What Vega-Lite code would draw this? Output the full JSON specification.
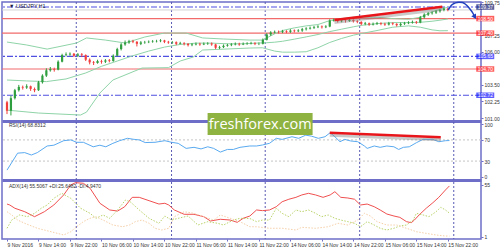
{
"$schema": "https://vega.github.io/schema/vega-lite/v6.json",
"autosize": {"type": "none"},
"padding": {"left": 2, "top": 2, "right": 19, "bottom": 11},
"width": 479,
"height": 237,
"background": "white",
"config": {
  "aria": false,
  "view": {"stroke": "#6e6ec8", "strokeWidth": 1.5},
  "axis": {"grid": false, "domain": false, "labelFont": "Liberation Sans", "labelFontSize": 5, "labelColor": "#333333", "tickColor": "#6e6ec8", "tickSize": 2, "labelPadding": 1},
  "text": {"font": "Liberation Sans"}
},
"resolve": {"scale": {"y": "independent"}, "axis": {"x": "independent", "y": "independent"}},
"datasets": {
  "days": [{"d":17.6},{"d":41.8},{"d":65.6},{"d":89.6},{"d":113.5}],
  "redlev": [{"p":108.5},{"p":107.4},{"p":104.7}],
  "bluelev": [{"p":109.37},{"p":105.65},{"p":102.72}],
  "bid": [{"p":109.15}],
  "tags": [{"p":109.37,"t":"109.37","k":"bid"},{"p":108.5,"t":"108.50","k":"res"},{"p":107.4,"t":"107.40","k":"res"},{"p":105.65,"t":"105.65","k":"piv"},{"p":104.7,"t":"104.70","k":"res"},{"p":102.72,"t":"102.72","k":"piv"}],
  "trend1": [{"i":83.2,"p":108.39},{"i":110.6,"p":109.4}],
  "trend2": [{"i":82.0,"v":83.6},{"i":110.2,"v":75}],
  "proj": [{"i":112.1,"p":109.15},{"i":112.9,"p":109.5},{"i":113.9,"p":109.68},{"i":114.8,"p":109.74},{"i":115.7,"p":109.71},{"i":116.4,"p":109.6},{"i":117.4,"p":109.3},{"i":118.2,"p":108.98},{"i":118.7,"p":108.72}],
  "projhead": [{"i":118.85,"p":108.62}],
  "maintitle": [{"t":"▼ USDJPY,H1"}],
  "rsititle": [{"t":"RSI(14) 68.8312"}],
  "adxtitle": [{"t":"ADX(14) 55.5067 +DI:25.6482 -DI:4.9470"}],
  "wm": [{"t":"freshforex.com"}],
  "rsilev": [{"v":70},{"v":30}],
  "bbu": [{"i":0,"v":106.73},{"i":5,"v":106.51},{"i":10.2,"v":106.2},{"i":17.7,"v":106.66},{"i":20.2,"v":107.04},{"i":25,"v":106.88},{"i":30,"v":106.66},{"i":35,"v":107.11},{"i":40,"v":107.41},{"i":45.5,"v":107.41},{"i":49.7,"v":107.04},{"i":55,"v":106.96},{"i":61.7,"v":106.88},{"i":64.9,"v":106.88},{"i":68,"v":107.35},{"i":70,"v":107.6},{"i":73,"v":107.8},{"i":76,"v":107.95},{"i":79,"v":108.05},{"i":82,"v":108.35},{"i":85,"v":108.5},{"i":88,"v":108.6},{"i":90,"v":108.61},{"i":94,"v":108.6},{"i":98,"v":108.5},{"i":102,"v":108.45},{"i":105,"v":108.6},{"i":108,"v":109.0},{"i":110,"v":109.2},{"i":112,"v":109.35}],
  "bbm": [{"i":0,"v":103.87},{"i":5,"v":103.8},{"i":10,"v":103.75},{"i":15,"v":103.95},{"i":20,"v":104.4},{"i":24,"v":104.9},{"i":28,"v":105.3},{"i":32,"v":105.7},{"i":36,"v":106.05},{"i":40,"v":106.35},{"i":44,"v":106.55},{"i":48,"v":106.65},{"i":52,"v":106.65},{"i":56,"v":106.6},{"i":60,"v":106.6},{"i":64,"v":106.66},{"i":66,"v":106.68},{"i":68,"v":106.72},{"i":70,"v":106.79},{"i":73,"v":106.95},{"i":76,"v":107.12},{"i":79,"v":107.3},{"i":82,"v":107.52},{"i":85,"v":107.7},{"i":88,"v":107.88},{"i":90,"v":107.99},{"i":94,"v":108.12},{"i":98,"v":108.2},{"i":102,"v":108.2},{"i":105,"v":108.22},{"i":108,"v":108.3},{"i":110,"v":108.38},{"i":112,"v":108.47}],
  "bbl": [{"i":0,"v":101.6},{"i":8,"v":101.38},{"i":18.7,"v":101.23},{"i":20.2,"v":101.45},{"i":23.6,"v":102.89},{"i":26.9,"v":103.87},{"i":34.3,"v":104.77},{"i":41,"v":104.8},{"i":44,"v":105.3},{"i":47.3,"v":105.6},{"i":49.7,"v":106.13},{"i":61.7,"v":106.28},{"i":64.9,"v":106.3},{"i":68,"v":106.05},{"i":70,"v":105.97},{"i":73,"v":105.97},{"i":76,"v":106.0},{"i":79,"v":106.3},{"i":82,"v":106.7},{"i":85,"v":107.0},{"i":88,"v":107.25},{"i":90,"v":107.37},{"i":94,"v":107.6},{"i":98,"v":107.85},{"i":102,"v":107.95},{"i":105,"v":107.85},{"i":108,"v":107.65},{"i":110,"v":107.58},{"i":112,"v":107.59}],
  "candles": [
{"i":0,"o":102.2,"c":101.55,"h":102.3,"l":101.3},{"i":1,"o":101.55,"c":102.5,"h":102.7,"l":101.2},{"i":2,"o":102.5,"c":103.1,"h":103.2,"l":102.4},{"i":3,"o":103.1,"c":103.35,"h":103.5,"l":103.0},{"i":4,"o":103.35,"c":103.3,"h":103.45,"l":103.15},{"i":5,"o":103.3,"c":103.4,"h":103.55,"l":103.2},{"i":6,"o":103.4,"c":103.2,"h":103.45,"l":103.05},{"i":7,"o":103.2,"c":103.1,"h":103.3,"l":102.95},{"i":8,"o":103.1,"c":103.7,"h":103.8,"l":103.05},{"i":9,"o":103.7,"c":104.2,"h":104.3,"l":103.6},
{"i":10,"o":104.2,"c":104.6,"h":104.75,"l":104.1},{"i":11,"o":104.6,"c":104.7,"h":104.85,"l":104.5},{"i":12,"o":104.7,"c":104.65,"h":104.8,"l":104.5},{"i":13,"o":104.65,"c":105.25,"h":105.35,"l":104.6},{"i":14,"o":105.25,"c":105.75,"h":105.85,"l":105.2},{"i":15,"o":105.75,"c":105.8,"h":105.95,"l":105.65},{"i":16,"o":105.8,"c":105.85,"h":105.95,"l":105.7},{"i":17,"o":105.85,"c":105.7,"h":105.9,"l":105.6},{"i":18,"o":105.7,"c":105.8,"h":105.9,"l":105.6},{"i":19,"o":105.8,"c":105.75,"h":105.9,"l":105.6},
{"i":20,"o":105.75,"c":105.4,"h":105.8,"l":105.3},{"i":21,"o":105.4,"c":105.2,"h":105.5,"l":105.05},{"i":22,"o":105.2,"c":105.15,"h":105.3,"l":105.0},{"i":23,"o":105.15,"c":105.3,"h":105.4,"l":105.1},{"i":24,"o":105.3,"c":105.25,"h":105.4,"l":105.1},{"i":25,"o":105.25,"c":105.35,"h":105.45,"l":105.15},{"i":26,"o":105.35,"c":105.3,"h":105.45,"l":105.2},{"i":27,"o":105.3,"c":105.7,"h":105.8,"l":105.25},{"i":28,"o":105.7,"c":106.2,"h":106.3,"l":105.65},{"i":29,"o":106.2,"c":106.55,"h":106.65,"l":106.1},
{"i":30,"o":106.55,"c":106.7,"h":106.85,"l":106.45},{"i":31,"o":106.7,"c":106.8,"h":106.9,"l":106.6},{"i":32,"o":106.8,"c":106.75,"h":106.9,"l":106.65},{"i":33,"o":106.75,"c":106.6,"h":106.8,"l":106.4},{"i":34,"o":106.6,"c":106.7,"h":106.8,"l":106.5},{"i":35,"o":106.7,"c":106.72,"h":106.82,"l":106.6},{"i":36,"o":106.72,"c":106.75,"h":106.85,"l":106.65},{"i":37,"o":106.75,"c":106.78,"h":106.88,"l":106.68},{"i":38,"o":106.78,"c":106.8,"h":106.9,"l":106.7},{"i":39,"o":106.8,"c":106.85,"h":106.95,"l":106.72},
{"i":40,"o":106.85,"c":106.75,"h":106.9,"l":106.65},{"i":41,"o":106.75,"c":106.7,"h":106.82,"l":106.6},{"i":42,"o":106.7,"c":106.72,"h":106.8,"l":106.6},{"i":43,"o":106.72,"c":106.6,"h":106.78,"l":106.5},{"i":44,"o":106.6,"c":106.65,"h":106.75,"l":106.55},{"i":45,"o":106.65,"c":106.6,"h":106.72,"l":106.48},{"i":46,"o":106.6,"c":106.5,"h":106.65,"l":106.4},{"i":47,"o":106.5,"c":106.55,"h":106.65,"l":106.42},{"i":48,"o":106.55,"c":106.6,"h":106.7,"l":106.48},{"i":49,"o":106.6,"c":106.55,"h":106.68,"l":106.45},
{"i":50,"o":106.55,"c":106.6,"h":106.7,"l":106.5},{"i":51,"o":106.6,"c":106.62,"h":106.72,"l":106.52},{"i":52,"o":106.62,"c":106.55,"h":106.7,"l":106.45},{"i":53,"o":106.55,"c":106.3,"h":106.6,"l":106.2},{"i":54,"o":106.3,"c":106.35,"h":106.45,"l":106.2},{"i":55,"o":106.35,"c":106.45,"h":106.55,"l":106.28},{"i":56,"o":106.45,"c":106.5,"h":106.6,"l":106.38},{"i":57,"o":106.5,"c":106.55,"h":106.65,"l":106.42},{"i":58,"o":106.55,"c":106.6,"h":106.7,"l":106.48},{"i":59,"o":106.6,"c":106.55,"h":106.68,"l":106.45},
{"i":60,"o":106.55,"c":106.6,"h":106.7,"l":106.5},{"i":61,"o":106.6,"c":106.62,"h":106.72,"l":106.52},{"i":62,"o":106.62,"c":106.65,"h":106.75,"l":106.55},{"i":63,"o":106.65,"c":106.6,"h":106.72,"l":106.5},{"i":64,"o":106.6,"c":106.6,"h":106.7,"l":106.5},{"i":65,"o":106.6,"c":106.9,"h":107.0,"l":106.55},{"i":66,"o":106.9,"c":107.3,"h":107.4,"l":106.85},{"i":67,"o":107.3,"c":107.45,"h":107.55,"l":107.2},{"i":68,"o":107.45,"c":107.5,"h":107.6,"l":107.38},{"i":69,"o":107.5,"c":107.48,"h":107.6,"l":107.38},
{"i":70,"o":107.48,"c":107.55,"h":107.65,"l":107.4},{"i":71,"o":107.55,"c":107.5,"h":107.62,"l":107.4},{"i":72,"o":107.5,"c":107.6,"h":107.7,"l":107.42},{"i":73,"o":107.6,"c":107.55,"h":107.68,"l":107.45},{"i":74,"o":107.55,"c":107.6,"h":107.7,"l":107.48},{"i":75,"o":107.6,"c":107.7,"h":107.8,"l":107.5},{"i":76,"o":107.7,"c":107.75,"h":107.85,"l":107.6},{"i":77,"o":107.75,"c":107.8,"h":107.9,"l":107.68},{"i":78,"o":107.8,"c":107.85,"h":107.95,"l":107.72},{"i":79,"o":107.85,"c":107.9,"h":108.0,"l":107.78},
{"i":80,"o":107.9,"c":107.85,"h":107.98,"l":107.75},{"i":81,"o":107.85,"c":107.9,"h":108.0,"l":107.78},{"i":82,"o":107.9,"c":108.35,"h":108.45,"l":107.85},{"i":83,"o":108.35,"c":108.4,"h":108.5,"l":108.28},{"i":84,"o":108.4,"c":108.3,"h":108.45,"l":108.2},{"i":85,"o":108.3,"c":108.35,"h":108.45,"l":108.22},{"i":86,"o":108.35,"c":108.32,"h":108.45,"l":108.2},{"i":87,"o":108.32,"c":108.4,"h":108.5,"l":108.25},{"i":88,"o":108.4,"c":108.3,"h":108.45,"l":108.2},{"i":89,"o":108.3,"c":108.25,"h":108.38,"l":108.15},
{"i":90,"o":108.25,"c":108.1,"h":108.3,"l":108.0},{"i":91,"o":108.1,"c":108.15,"h":108.25,"l":108.0},{"i":92,"o":108.15,"c":108.05,"h":108.2,"l":107.95},{"i":93,"o":108.05,"c":108.1,"h":108.2,"l":107.98},{"i":94,"o":108.1,"c":108.15,"h":108.25,"l":108.02},{"i":95,"o":108.15,"c":108.1,"h":108.22,"l":108.0},{"i":96,"o":108.1,"c":108.05,"h":108.18,"l":107.95},{"i":97,"o":108.05,"c":108.15,"h":108.25,"l":107.98},{"i":98,"o":108.15,"c":108.1,"h":108.22,"l":108.0},{"i":99,"o":108.1,"c":108.0,"h":108.15,"l":107.9},
{"i":100,"o":108.0,"c":108.1,"h":108.2,"l":107.92},{"i":101,"o":108.1,"c":108.15,"h":108.25,"l":108.02},{"i":102,"o":108.15,"c":108.2,"h":108.3,"l":108.08},{"i":103,"o":108.2,"c":108.25,"h":108.35,"l":108.12},{"i":104,"o":108.25,"c":108.2,"h":108.32,"l":108.1},{"i":105,"o":108.2,"c":108.6,"h":108.7,"l":108.15},{"i":106,"o":108.6,"c":108.8,"h":108.9,"l":108.5},{"i":107,"o":108.8,"c":108.9,"h":109.0,"l":108.7},{"i":108,"o":108.9,"c":108.95,"h":109.05,"l":108.8},{"i":109,"o":108.95,"c":109.05,"h":109.15,"l":108.85},
{"i":110,"o":109.05,"c":109.15,"h":109.25,"l":108.95},{"i":111,"o":109.15,"c":109.25,"h":109.35,"l":109.05},{"i":112,"o":109.25,"c":109.15,"h":109.3,"l":109.05}
  ],
  "rsi": [{"i":0,"v":13},{"i":2.7,"v":45},{"i":4.5,"v":46},{"i":6.2,"v":41.5},{"i":7.7,"v":46},{"i":10.2,"v":58.5},{"i":11.9,"v":60},{"i":14.4,"v":68.5},{"i":16.2,"v":70},{"i":17.7,"v":65.5},{"i":19.4,"v":65.5},{"i":21.9,"v":57},{"i":23.6,"v":60},{"i":25.1,"v":57},{"i":26.9,"v":63.5},{"i":28.6,"v":68.5},{"i":30.6,"v":73},{"i":32.3,"v":71},{"i":33.6,"v":70},{"i":35.1,"v":65},{"i":37.6,"v":65.5},{"i":40.1,"v":68.5},{"i":41.8,"v":65.5},{"i":43.5,"v":63.5},{"i":45.5,"v":54},{"i":47.5,"v":56},{"i":49.3,"v":53},{"i":51,"v":57},{"i":52.5,"v":54},{"i":54.2,"v":47},{"i":56,"v":52},{"i":57.5,"v":52},{"i":59.2,"v":56},{"i":61.7,"v":58.5},{"i":63.4,"v":58.5},{"i":64.9,"v":60.4},{"i":66.7,"v":63.6},{"i":68.4,"v":73},{"i":69.9,"v":71},{"i":72.4,"v":76},{"i":74.1,"v":73},{"i":75.9,"v":79},{"i":77.4,"v":77},{"i":79.1,"v":73},{"i":80.8,"v":76},{"i":82.1,"v":83.6},{"i":83.3,"v":76},{"i":84.6,"v":66.6},{"i":85.8,"v":71},{"i":87.3,"v":68},{"i":89.1,"v":66.6},{"i":90.8,"v":58.5},{"i":91.5,"v":54},{"i":93.3,"v":58.5},{"i":94.8,"v":56},{"i":96.5,"v":58.5},{"i":98.3,"v":57},{"i":99.5,"v":52},{"i":100.7,"v":56},{"i":102.2,"v":57},{"i":104,"v":64.7},{"i":105.7,"v":71},{"i":108.2,"v":71},{"i":109.7,"v":66.6},{"i":111.4,"v":68.5},{"i":112.4,"v":68.8}],
  "adx": [{"i":0,"v":35.1},{"i":0.7,"v":34.1},{"i":2,"v":30.7},{"i":4.5,"v":27.1},{"i":7,"v":21.9},{"i":9.5,"v":27.1},{"i":11.9,"v":34.1},{"i":14.4,"v":44.6},{"i":16.2,"v":55},{"i":17.4,"v":57.4},{"i":19.4,"v":56.8},{"i":21.1,"v":51.6},{"i":23.6,"v":35.9},{"i":26.1,"v":28.9},{"i":28.1,"v":27.8},{"i":29.9,"v":32.3},{"i":31.8,"v":42.1},{"i":33.6,"v":42.1},{"i":36.1,"v":38.6},{"i":38.6,"v":35.1},{"i":40.1,"v":35.9},{"i":41.1,"v":34.1},{"i":42.5,"v":28.9},{"i":45,"v":24.4},{"i":47.5,"v":24.4},{"i":50,"v":21.9},{"i":51.7,"v":17.4},{"i":54.2,"v":19.2},{"i":56.7,"v":18.4},{"i":58.5,"v":16},{"i":60,"v":20.2},{"i":61.7,"v":22.6},{"i":63.4,"v":28.9},{"i":64.9,"v":28.2},{"i":66.7,"v":28.9},{"i":68.4,"v":32.3},{"i":69.9,"v":37.5},{"i":71.6,"v":40.1},{"i":73.4,"v":42.1},{"i":74.9,"v":44.6},{"i":76.6,"v":46.3},{"i":78.4,"v":44.6},{"i":80.3,"v":42.1},{"i":82.1,"v":44.6},{"i":83.3,"v":48},{"i":84.8,"v":42.1},{"i":86.6,"v":41.4},{"i":88.3,"v":40.1},{"i":89.8,"v":34.1},{"i":91.5,"v":35.1},{"i":93.3,"v":32.3},{"i":94.8,"v":28.9},{"i":96.5,"v":24.7},{"i":98.3,"v":22.6},{"i":99.8,"v":21.2},{"i":101.5,"v":16.7},{"i":102.7,"v":15.6},{"i":103.5,"v":18.4},{"i":104.7,"v":23.7},{"i":106.5,"v":30.7},{"i":108.2,"v":36.5},{"i":109.7,"v":42.1},{"i":111.4,"v":49.8},{"i":112.4,"v":54}],
  "pdi": [{"i":0,"v":9.8},{"i":1.2,"v":18.4},{"i":3.2,"v":23.7},{"i":5.2,"v":21.9},{"i":7,"v":25.4},{"i":8.7,"v":30.7},{"i":10.2,"v":34.1},{"i":11.9,"v":41.1},{"i":13.9,"v":46.3},{"i":16.2,"v":41.1},{"i":18.7,"v":30.7},{"i":21.1,"v":25.4},{"i":22.6,"v":20.2},{"i":24.4,"v":23.7},{"i":26.1,"v":20.2},{"i":28.1,"v":28.9},{"i":30.1,"v":39.3},{"i":31.3,"v":37.5},{"i":33.6,"v":28.9},{"i":36.1,"v":20.2},{"i":38.6,"v":15},{"i":40.1,"v":22.6},{"i":41.8,"v":18.4},{"i":43.5,"v":20.2},{"i":46,"v":22.6},{"i":48.5,"v":13.2},{"i":51,"v":16.7},{"i":53.5,"v":15},{"i":55,"v":13.2},{"i":57.5,"v":18.4},{"i":59.2,"v":20.2},{"i":61.7,"v":20},{"i":63.4,"v":16.7},{"i":64.9,"v":18.4},{"i":66.7,"v":18.4},{"i":68.4,"v":30.7},{"i":69.9,"v":25.4},{"i":71.6,"v":21.9},{"i":73.4,"v":28.9},{"i":74.9,"v":27.1},{"i":76.6,"v":28.9},{"i":78.4,"v":25.4},{"i":79.9,"v":21.9},{"i":81.6,"v":23.7},{"i":83.3,"v":20.2},{"i":84.8,"v":18.4},{"i":86.6,"v":16.7},{"i":88.3,"v":15},{"i":89.8,"v":11.4},{"i":91.5,"v":16.7},{"i":93.3,"v":13.2},{"i":94.8,"v":9.8},{"i":96.5,"v":8},{"i":98.3,"v":9.8},{"i":99.8,"v":12.2},{"i":101.5,"v":13.2},{"i":103.2,"v":18.4},{"i":104,"v":25.4},{"i":105.7,"v":23.7},{"i":107.2,"v":21.9},{"i":109,"v":27.1},{"i":110.2,"v":31.7},{"i":111.4,"v":28.9},{"i":112.4,"v":25.6}],
  "mdi": [{"i":0,"v":27.1},{"i":1.2,"v":23.7},{"i":2.7,"v":18.4},{"i":4.5,"v":15},{"i":7.7,"v":9.8},{"i":11.2,"v":6.2},{"i":14.4,"v":2.8},{"i":16.2,"v":6.2},{"i":17.7,"v":11.4},{"i":19.4,"v":16.7},{"i":21.1,"v":20.2},{"i":22.6,"v":21.9},{"i":24.4,"v":18.4},{"i":26.9,"v":13.2},{"i":29.4,"v":11.4},{"i":31.1,"v":13.2},{"i":32.6,"v":16.7},{"i":34.3,"v":18.4},{"i":36.1,"v":15},{"i":37.6,"v":9.8},{"i":39.3,"v":8},{"i":41.1,"v":9.8},{"i":42.5,"v":21.9},{"i":45,"v":27.1},{"i":47.5,"v":25.4},{"i":50,"v":21.9},{"i":52.5,"v":18.4},{"i":54.2,"v":23.7},{"i":56.7,"v":20.2},{"i":59.2,"v":16.7},{"i":61.7,"v":11.4},{"i":63.4,"v":11.4},{"i":66.7,"v":9.8},{"i":69.9,"v":9.8},{"i":73.4,"v":8},{"i":74.9,"v":10.8},{"i":78.4,"v":9.8},{"i":81.6,"v":11.4},{"i":84.1,"v":15},{"i":86.6,"v":13.2},{"i":89.1,"v":18.4},{"i":90.8,"v":25.4},{"i":92.3,"v":22.6},{"i":94,"v":16.7},{"i":96.5,"v":13.2},{"i":99,"v":13.2},{"i":101.5,"v":9.8},{"i":104,"v":6.2},{"i":106.5,"v":4.5},{"i":109,"v":2.8},{"i":111.4,"v":1.7},{"i":112.4,"v":1.7}]
},
"layer": [
  {"data":{"name":"days"},"mark":{"type":"rule","color":"#5a5ab4","strokeDash":[2,2],"strokeWidth":1},
   "encoding":{"x":{"field":"d","type":"quantitative","scale":{"domain":[0,119.15]},
     "axis":{"orient":"bottom","title":null,"values":[0,8,16,24,32,40,48,56,64,72,80,88,96,104,112],"labelAlign":"left","labelBaseline":"top","labelOverlap":false,"labelFlush":false,"labelBound":false,
       "labelExpr":"['9 Nov 2016','9 Nov 14:00','9 Nov 22:00','10 Nov 06:00','10 Nov 14:00','10 Nov 22:00','11 Nov 06:00','11 Nov 14:00','11 Nov 22:00','14 Nov 06:00','14 Nov 14:00','14 Nov 22:00','15 Nov 06:00','15 Nov 14:00','15 Nov 22:00'][round(datum.value/8)]"}}}},
  {"data":{"name":"redlev"},"mark":{"type":"rule","color":"#f26b6b","strokeWidth":1.2},
   "encoding":{"y":{"field":"p","type":"quantitative","scale":{"domain":[100.78,109.75],"range":[119,0]},"axis":{"orient":"right","title":null,"values":[101,102.25,103.5,106,107.25,109.75],"format":".2f"}}}},
  {"data":{"name":"bluelev"},"mark":{"type":"rule","color":"#5050e0","strokeWidth":1.1,"strokeDash":[6,2,2,2]},
   "encoding":{"y":{"field":"p","type":"quantitative","scale":{"domain":[100.78,109.75],"range":[119,0]},"axis":null}}},
  {"data":{"name":"bid"},"mark":{"type":"rule","color":"#d4d4d4","strokeWidth":1},
   "encoding":{"y":{"field":"p","type":"quantitative","scale":{"domain":[100.78,109.75],"range":[119,0]},"axis":null}}},
  {"data":{"name":"bbu"},"mark":{"type":"line","color":"#8fd4a8","strokeWidth":1},
   "encoding":{"x":{"field":"i","type":"quantitative","scale":{"domain":[0,119.15]},"axis":null},"y":{"field":"v","type":"quantitative","scale":{"domain":[100.78,109.75],"range":[119,0]},"axis":null}}},
  {"data":{"name":"bbm"},"mark":{"type":"line","color":"#8fd4a8","strokeWidth":1},
   "encoding":{"x":{"field":"i","type":"quantitative","scale":{"domain":[0,119.15]},"axis":null},"y":{"field":"v","type":"quantitative","scale":{"domain":[100.78,109.75],"range":[119,0]},"axis":null}}},
  {"data":{"name":"bbl"},"mark":{"type":"line","color":"#8fd4a8","strokeWidth":1},
   "encoding":{"x":{"field":"i","type":"quantitative","scale":{"domain":[0,119.15]},"axis":null},"y":{"field":"v","type":"quantitative","scale":{"domain":[100.78,109.75],"range":[119,0]},"axis":null}}},
  {"data":{"name":"candles"},"mark":{"type":"rule","strokeWidth":1},
   "encoding":{"x":{"field":"i","type":"quantitative","scale":{"domain":[0,119.15]},"axis":null},"y":{"field":"l","type":"quantitative","scale":{"domain":[100.78,109.75],"range":[119,0]},"axis":null},"y2":{"field":"h"},
   "color":{"condition":{"test":"datum.c >= datum.o","value":"#2f9e3f"},"value":"#f23d3d"}}},
  {"data":{"name":"candles"},"mark":{"type":"bar","size":2.2},
   "encoding":{"x":{"field":"i","type":"quantitative","scale":{"domain":[0,119.15]},"axis":null},"y":{"field":"o","type":"quantitative","scale":{"domain":[100.78,109.75],"range":[119,0]},"axis":null},"y2":{"field":"c"},
   "color":{"condition":{"test":"datum.c >= datum.o","value":"#2f9e3f"},"value":"#f23d3d"}}},
  {"data":{"name":"trend1"},"mark":{"type":"line","color":"#888888","opacity":0.45,"strokeWidth":3,"yOffset":2.5},
   "encoding":{"x":{"field":"i","type":"quantitative","scale":{"domain":[0,119.15]},"axis":null},"y":{"field":"p","type":"quantitative","scale":{"domain":[100.78,109.75],"range":[119,0]},"axis":null}}},
  {"data":{"name":"trend1"},"mark":{"type":"line","color":"#e8151b","strokeWidth":2.5},
   "encoding":{"x":{"field":"i","type":"quantitative","scale":{"domain":[0,119.15]},"axis":null},"y":{"field":"p","type":"quantitative","scale":{"domain":[100.78,109.75],"range":[119,0]},"axis":null}}},
  {"data":{"name":"proj"},"mark":{"type":"line","color":"#1f3fbf","strokeWidth":1.5,"interpolate":"monotone"},
   "encoding":{"x":{"field":"i","type":"quantitative","scale":{"domain":[0,119.15]},"axis":null},"y":{"field":"p","type":"quantitative","scale":{"domain":[100.78,109.75],"range":[119,0]},"axis":null}}},
  {"data":{"name":"projhead"},"mark":{"type":"point","shape":"triangle-down","filled":true,"size":30,"angle":-30,"color":"#1f3fbf","opacity":1},
   "encoding":{"x":{"field":"i","type":"quantitative","scale":{"domain":[0,119.15]},"axis":null},"y":{"field":"p","type":"quantitative","scale":{"domain":[100.78,109.75],"range":[119,0]},"axis":null}}},
  {"data":{"name":"maintitle"},"mark":{"type":"text","align":"left","baseline":"middle","fontSize":5.5,"color":"#1a1a40"},
   "encoding":{"x":{"datum":0.5,"type":"quantitative","scale":{"domain":[0,119.15]},"axis":null},"y":{"datum":109.47,"type":"quantitative","scale":{"domain":[100.78,109.75],"range":[119,0]},"axis":null},"text":{"field":"t"}}},
  {"data":{"name":"tags"},"mark":{"type":"tick","orient":"horizontal","thickness":5.5,"size":18},
   "encoding":{"x":{"datum":121.5,"type":"quantitative","scale":{"domain":[0,119.15]},"axis":null},"y":{"field":"p","type":"quantitative","scale":{"domain":[100.78,109.75],"range":[119,0]},"axis":null},
   "color":{"field":"k","type":"nominal","scale":{"domain":["bid","res","piv"],"range":["#141a70","#ff1a1a","#1a1aff"]},"legend":null}}},
  {"data":{"name":"tags"},"mark":{"type":"text","align":"left","baseline":"middle","fontSize":5,"color":"white"},
   "encoding":{"x":{"datum":119.6,"type":"quantitative","scale":{"domain":[0,119.15]},"axis":null},"y":{"field":"p","type":"quantitative","scale":{"domain":[100.78,109.75],"range":[119,0]},"axis":null},"text":{"field":"t"}}},
  {"data":{"name":"rsilev"},"mark":{"type":"rule","color":"#c4c4c4","strokeDash":[2,2],"strokeWidth":1},
   "encoding":{"y":{"field":"v","type":"quantitative","scale":{"domain":[-5.7,105.7],"range":[178,119]},"axis":{"orient":"right","title":null,"values":[0,30,70,100]}}}},
  {"data":{"name":"rsi"},"mark":{"type":"line","color":"#5aaaf0","strokeWidth":1},
   "encoding":{"x":{"field":"i","type":"quantitative","scale":{"domain":[0,119.15]},"axis":{"orient":"bottom","offset":-118,"title":null,"domain":true,"domainColor":"#6e6ec8","domainWidth":3,"labels":false,"ticks":false}},"y":{"field":"v","type":"quantitative","scale":{"domain":[-5.7,105.7],"range":[178,119]},"axis":null}}},
  {"data":{"name":"trend2"},"mark":{"type":"line","color":"#888888","opacity":0.45,"strokeWidth":3,"yOffset":2.5},
   "encoding":{"x":{"field":"i","type":"quantitative","scale":{"domain":[0,119.15]},"axis":null},"y":{"field":"v","type":"quantitative","scale":{"domain":[-5.7,105.7],"range":[178,119]},"axis":null}}},
  {"data":{"name":"trend2"},"mark":{"type":"line","color":"#e8151b","strokeWidth":2.5},
   "encoding":{"x":{"field":"i","type":"quantitative","scale":{"domain":[0,119.15]},"axis":null},"y":{"field":"v","type":"quantitative","scale":{"domain":[-5.7,105.7],"range":[178,119]},"axis":null}}},
  {"data":{"name":"rsititle"},"mark":{"type":"text","align":"left","baseline":"middle","fontSize":5,"color":"#333333"},
   "encoding":{"x":{"datum":0.5,"type":"quantitative","scale":{"domain":[0,119.15]},"axis":null},"y":{"datum":98,"type":"quantitative","scale":{"domain":[-5.7,105.7],"range":[178,119]},"axis":null},"text":{"field":"t"}}},
  {"data":{"name":"adx"},"mark":{"type":"line","color":"#f05050","strokeWidth":1},
   "encoding":{"x":{"field":"i","type":"quantitative","scale":{"domain":[0,119.15]},"axis":{"orient":"bottom","offset":-59,"title":null,"domain":true,"domainColor":"#6e6ec8","domainWidth":3,"labels":false,"ticks":false}},"y":{"field":"v","type":"quantitative","scale":{"domain":[-1.4,60.2],"range":[237,178]},"axis":{"orient":"right","title":null,"values":[1,55]}}}},
  {"data":{"name":"pdi"},"mark":{"type":"line","color":"#b9d46a","strokeWidth":1,"strokeDash":[1.5,1.5]},
   "encoding":{"x":{"field":"i","type":"quantitative","scale":{"domain":[0,119.15]},"axis":null},"y":{"field":"v","type":"quantitative","scale":{"domain":[-1.4,60.2],"range":[237,178]},"axis":null}}},
  {"data":{"name":"mdi"},"mark":{"type":"line","color":"#f5d0a9","strokeWidth":1,"strokeDash":[1.5,1.5]},
   "encoding":{"x":{"field":"i","type":"quantitative","scale":{"domain":[0,119.15]},"axis":null},"y":{"field":"v","type":"quantitative","scale":{"domain":[-1.4,60.2],"range":[237,178]},"axis":null}}},
  {"data":{"name":"adxtitle"},"mark":{"type":"text","align":"left","baseline":"middle","fontSize":5,"color":"#333333"},
   "encoding":{"x":{"datum":0.5,"type":"quantitative","scale":{"domain":[0,119.15]},"axis":null},"y":{"datum":54,"type":"quantitative","scale":{"domain":[-1.4,60.2],"range":[237,178]},"axis":null},"text":{"field":"t"}}},
  {"data":{"name":"wm"},"mark":{"type":"point","shape":"M-1,-0.2095L1,-0.2095L1,0.2095L-1,0.2095Z","filled":true,"size":11025,"color":"#8fb340","opacity":1},
   "encoding":{"x":{"datum":64.3,"type":"quantitative","scale":{"domain":[0,119.15]},"axis":null},"y":{"datum":100,"type":"quantitative","scale":{"domain":[-5.7,105.7],"range":[178,119]},"axis":null}}},
  {"data":{"name":"wm"},"mark":{"type":"text","align":"center","baseline":"middle","fontSize":14.5,"font":"Open Sans","color":"white"},
   "encoding":{"x":{"datum":64.3,"type":"quantitative","scale":{"domain":[0,119.15]},"axis":null},"y":{"datum":99,"type":"quantitative","scale":{"domain":[-5.7,105.7],"range":[178,119]},"axis":null},"text":{"field":"t"}}}
]
}
